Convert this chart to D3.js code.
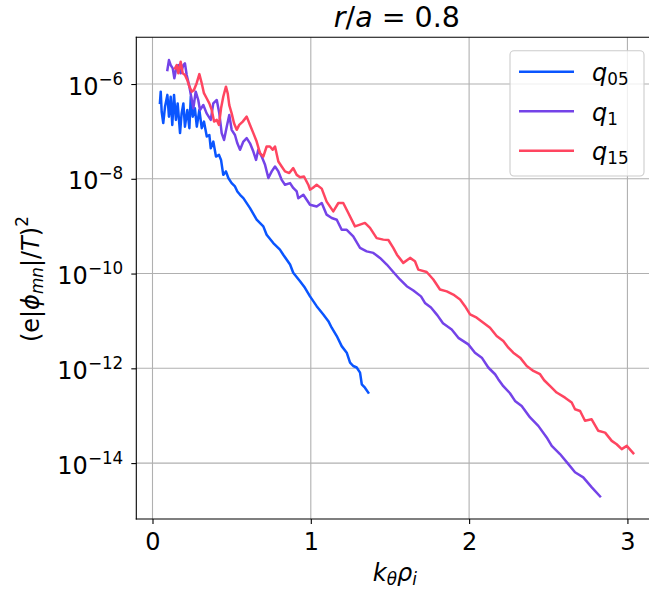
<!DOCTYPE html>
<html>
<head>
<meta charset="utf-8">
<script src="https://cdn.jsdelivr.net/npm/d3@7"></script>
<style>
  html, body { margin: 0; padding: 0; background: #fff; }
  svg { display: block; }
  text { font-family: "DejaVu Sans", sans-serif; fill: #000; }
</style>
</head>
<body>
<div id="chart"></div>
<script>
// ---- data ----
const q05K = [0.047,0.052,0.058,0.068,0.079,0.094,0.104,0.115,0.125,0.136,0.148,0.159,0.174,0.184,0.195,0.205,0.220,0.233,0.242,0.254,0.268,0.280,0.296,0.311,0.325,0.343,0.359,0.368,0.384,0.401,0.420,0.433,0.447,0.464,0.479,0.500,0.521,0.536,0.553,0.574,0.616,0.658,0.700,0.721,0.763,0.805,0.826,0.869,0.889,0.932,0.963,0.995,1.037,1.079,1.111,1.132,1.164,1.195,1.227,1.248,1.268,1.290,1.311,1.322,1.342,1.363];
const q05Phi = [4.0e-7,6.9e-7,2.6e-7,1.5e-7,3.3e-7,5.9e-7,2.05e-7,5.4e-7,1.37e-7,5.9e-7,1.75e-7,3.9e-7,9.2e-8,2.4e-7,3.9e-7,1.26e-7,2.84e-7,1.17e-7,5.4e-7,2.05e-7,3.08e-7,1.26e-7,2.84e-7,1.17e-7,1.61e-7,7.8e-8,8.4e-8,4.4e-8,6.1e-8,2.94e-8,3.2e-8,2.5e-8,1.21e-8,1.43e-8,1.04e-8,8.1e-9,6.9e-9,5.4e-9,4.6e-9,3.9e-9,2.4e-9,1.37e-9,9.9e-10,6.6e-10,4.4e-10,3.2e-10,2.5e-10,1.55e-10,1.04e-10,6.9e-11,5.0e-11,3.3e-11,2.05e-11,1.37e-11,9.9e-12,7.2e-12,4.8e-12,2.94e-12,2.14e-12,1.32e-12,1.12e-12,1.04e-12,8.1e-13,4.6e-13,3.9e-13,3.08e-13];

const q1K = [0.094,0.104,0.115,0.128,0.138,0.148,0.163,0.178,0.195,0.205,0.216,0.233,0.248,0.258,0.273,0.289,0.300,0.321,0.342,0.368,0.384,0.406,0.422,0.437,0.452,0.469,0.485,0.500,0.521,0.536,0.553,0.574,0.595,0.616,0.637,0.654,0.668,0.690,0.711,0.732,0.753,0.774,0.795,0.816,0.837,0.869,0.889,0.911,0.921,0.953,0.995,1.037,1.069,1.100,1.132,1.164,1.195,1.227,1.268,1.311,1.353,1.395,1.437,1.480,1.521,1.563,1.606,1.648,1.696,1.721,1.759,1.800,1.835,1.890,1.932,1.995,2.037,2.080,2.121,2.164,2.184,2.216,2.258,2.290,2.332,2.385,2.437,2.490,2.522,2.574,2.627,2.669,2.721,2.775,2.827];
const q1Phi = [1.97e-6,3.2e-6,2.5e-6,2.14e-6,1.32e-6,1.97e-6,2.5e-6,1.68e-6,2.5e-6,2.73e-6,1.55e-6,8.8e-7,4.6e-7,3.08e-7,6.9e-7,4.6e-7,2.84e-7,3.6e-7,2.4e-7,1.75e-7,3.9e-7,4.6e-7,2.4e-7,9.2e-8,6.6e-8,1.26e-7,2.22e-7,1.08e-7,8.4e-8,5.6e-8,4.1e-8,6.1e-8,7.2e-8,5.6e-8,3.76e-8,2.5e-8,4.1e-8,2.94e-8,1.97e-8,1.04e-8,1.43e-8,1.82e-8,1.43e-8,9.5e-9,7.5e-9,8.1e-9,6.4e-9,5.4e-9,3.9e-9,4.6e-9,2.84e-9,2.61e-9,3.08e-9,1.75e-9,1.49e-9,1.37e-9,8.4e-10,8.4e-10,6.1e-10,3.48e-10,2.94e-10,2.73e-10,2.14e-10,1.55e-10,1.08e-10,7.5e-11,5.4e-11,4.4e-11,3.3e-11,2.4e-11,1.92e-11,1.31e-11,8.9e-12,6.6e-12,4.4e-12,3.2e-12,2.14e-12,1.68e-12,1.04e-12,7.5e-13,5.9e-13,4.2e-13,2.98e-13,2.05e-13,1.61e-13,9.2e-14,6.1e-14,3.48e-14,2.31e-14,1.55e-14,9.5e-15,6.4e-15,5.0e-15,3.08e-15,1.99e-15];

const q15K = [0.142,0.153,0.163,0.178,0.191,0.205,0.220,0.233,0.248,0.262,0.279,0.296,0.311,0.325,0.342,0.359,0.374,0.389,0.406,0.420,0.433,0.447,0.464,0.475,0.485,0.500,0.515,0.532,0.548,0.570,0.595,0.616,0.637,0.658,0.679,0.700,0.721,0.742,0.759,0.774,0.795,0.816,0.837,0.864,0.889,0.911,0.932,0.957,0.984,0.995,1.012,1.037,1.069,1.100,1.142,1.174,1.205,1.237,1.279,1.311,1.342,1.374,1.416,1.458,1.490,1.521,1.544,1.584,1.627,1.658,1.679,1.732,1.774,1.816,1.859,1.900,1.943,1.974,2.006,2.048,2.090,2.132,2.174,2.216,2.248,2.279,2.322,2.364,2.406,2.448,2.474,2.512,2.553,2.606,2.648,2.669,2.701,2.732,2.774,2.816,2.859,2.901,2.932,2.964,2.996,3.037];
const q15Phi = [2.14e-6,2.5e-6,1.68e-6,2.94e-6,1.68e-6,1.55e-6,1.21e-6,8.8e-7,6.9e-7,7.5e-7,1.04e-6,1.62e-6,1.04e-6,6.4e-7,5.0e-7,3.9e-7,2.84e-7,1.61e-7,1.75e-7,1.37e-7,3.08e-7,5.4e-7,8.8e-7,6.4e-7,3.6e-7,2.4e-7,1.49e-7,1.08e-7,1.37e-7,1.61e-7,2.05e-7,1.37e-7,9.2e-8,6.1e-8,3.48e-8,2.94e-8,4.8e-8,4.8e-8,4.1e-8,4.8e-8,2.31e-8,1.82e-8,1.43e-8,1.32e-8,1.68e-8,1.21e-8,1.08e-8,1.12e-8,7.5e-9,5.9e-9,6.4e-9,7.5e-9,6.2e-9,3.3e-9,2.05e-9,3.08e-9,3.08e-9,1.9e-9,9.9e-10,1.08e-9,1.17e-9,9.2e-10,5.6e-10,5.2e-10,5.1e-10,3.48e-10,2.5e-10,1.68e-10,2.14e-10,1.82e-10,1.21e-10,1.08e-10,7.5e-11,4.6e-11,4.2e-11,3.6e-11,2.84e-11,2.05e-11,1.37e-11,1.17e-11,9.2e-12,7.2e-12,4.8e-12,3.76e-12,2.73e-12,2.14e-12,1.68e-12,1.12e-12,8.8e-13,7.5e-13,5.6e-13,4.2e-13,3.08e-13,2.4e-13,1.9e-13,1.37e-13,1.26e-13,7.8e-14,8.4e-14,4.8e-14,4.4e-14,2.94e-14,2.5e-14,1.97e-14,2.31e-14,1.62e-14];

const seriesNames = ["q05", "q1", "q15"];
const seriesSubs = ["05", "1", "15"];
const seriesColors = ["#0a55ff", "#7443e8", "#ff4560"];

const xTicks = [0, 1, 2, 3];
const yTicks = [1e-6, 1e-8, 1e-10, 1e-12, 1e-14];
const yTickExps = ["\u22126", "\u22128", "\u221210", "\u221212", "\u221214"];

// ---- layout ----
const W = 649, H = 595;
const L = 136.3, T = 37.3, B = 519, R = 657.5;

const svg = d3.select("#chart").append("svg")
  .attr("width", W).attr("height", H);

const x = d3.scaleLinear().domain([-0.1023, 3.19]).range([L, R]);
const y = d3.scaleLog().domain([Math.pow(10, -15.18), Math.pow(10, -5.014)]).range([B, T]);

// grid
const grid = svg.append("g");
grid.selectAll("line.vx").data(xTicks).join("line")
  .attr("x1", d => x(d)).attr("x2", d => x(d))
  .attr("y1", T).attr("y2", B)
  .attr("stroke", "#b0b0b0").attr("stroke-width", 1.1);
grid.selectAll("line.hy").data(yTicks).join("line")
  .attr("x1", L).attr("x2", R)
  .attr("y1", d => y(d)).attr("y2", d => y(d))
  .attr("stroke", "#b0b0b0").attr("stroke-width", 1.1);

// series
const series = [
  {k: q05K, p: q05Phi},
  {k: q1K, p: q1Phi},
  {k: q15K, p: q15Phi}
];
const line = d3.line().x(d => x(d[0])).y(d => y(d[1]));
series.forEach((s, i) => {
  const pts = s.k.map((k, j) => [k, s.p[j]]).filter(d => d[1] !== undefined);
  svg.append("path").datum(pts)
    .attr("d", line)
    .attr("fill", "none")
    .attr("stroke", seriesColors[i])
    .attr("stroke-width", 2.5)
    .attr("stroke-linejoin", "round")
    .attr("stroke-linecap", "square");
});

// axes
const xAxis = d3.axisBottom(x).tickValues(xTicks).tickSize(5).tickPadding(9)
  .tickFormat(d3.format("d"));
const gx = svg.append("g").attr("transform", `translate(0,${B})`).call(xAxis);
gx.select(".domain").remove();
gx.selectAll(".tick line").attr("stroke", "#000").attr("stroke-width", 1.1);
gx.selectAll(".tick text").attr("font-size", 24).attr("font-family", "DejaVu Sans").attr("fill", "#000");

const yAxis = d3.axisLeft(y).tickValues(yTicks).tickSize(5).tickFormat("");
const gy = svg.append("g").attr("transform", `translate(${L},0)`).call(yAxis);
gy.select(".domain").remove();
gy.selectAll(".tick line").attr("stroke", "#000").attr("stroke-width", 1.1);
gy.selectAll(".tick").each(function(d, i) {
  const t = d3.select(this).append("text")
    .attr("x", -13).attr("y", 10)
    .attr("text-anchor", "end")
    .attr("font-size", 24);
  t.append("tspan").text("10");
  t.append("tspan").attr("font-size", 16.8).attr("dy", -10).text(yTickExps[i]);
});

// spines
svg.append("line").attr("x1", L).attr("x2", L).attr("y1", T).attr("y2", B)
  .attr("stroke", "#000").attr("stroke-width", 1.1).attr("stroke-linecap", "square");
svg.append("line").attr("x1", L).attr("x2", R).attr("y1", B).attr("y2", B)
  .attr("stroke", "#000").attr("stroke-width", 1.1).attr("stroke-linecap", "square");
svg.append("line").attr("x1", L).attr("x2", R).attr("y1", T).attr("y2", T)
  .attr("stroke", "#000").attr("stroke-width", 1.1).attr("stroke-linecap", "square");

// title
const title = svg.append("text").attr("x", (L + R) / 2).attr("y", 27)
  .attr("text-anchor", "middle").attr("font-size", 28.5);
title.append("tspan").attr("font-style", "italic").text("r");
title.append("tspan").text("/");
title.append("tspan").attr("font-style", "italic").text("a");
title.append("tspan").text(" = 0.8");

// x label
const xl = svg.append("text").attr("x", (L + R) / 2 - 2).attr("y", 581)
  .attr("text-anchor", "middle").attr("font-size", 24);
xl.append("tspan").attr("font-style", "italic").text("k");
xl.append("tspan").attr("font-style", "italic").attr("font-size", 16.8).attr("dy", 4).text("\u03b8");
xl.append("tspan").attr("font-style", "italic").attr("dy", -4).text("\u03c1");
xl.append("tspan").attr("font-style", "italic").attr("font-size", 16.8).attr("dy", 4).text("i");

// y label
const yl = svg.append("text")
  .attr("transform", `translate(39,${(T + B) / 2 + 1}) rotate(-90)`)
  .attr("text-anchor", "middle").attr("font-size", 24);
yl.append("tspan").text("(e|");
yl.append("tspan").attr("font-style", "italic").text("\u03d5");
yl.append("tspan").attr("font-style", "italic").attr("font-size", 16.8).attr("dy", 4).text("mn");
yl.append("tspan").attr("dy", -4).text("|/");
yl.append("tspan").attr("font-style", "italic").text("T");
yl.append("tspan").text(")");
yl.append("tspan").attr("font-size", 16.8).attr("dy", -11).text("2");

// legend
const lg = svg.append("g");
lg.append("rect").attr("x", 510).attr("y", 50.7).attr("width", 134).attr("height", 125.3)
  .attr("rx", 4).attr("ry", 4)
  .attr("fill", "#fff").attr("fill-opacity", 0.8)
  .attr("stroke", "#cccccc").attr("stroke-width", 1.1);
const rowsY = [71.7, 111.2, 150.7];
seriesNames.forEach((n, i) => {
  lg.append("line").attr("x1", 519).attr("x2", 574)
    .attr("y1", rowsY[i]).attr("y2", rowsY[i])
    .attr("stroke", seriesColors[i]).attr("stroke-width", 2.5);
  const t = lg.append("text").attr("x", 592).attr("y", rowsY[i] + 9.5).attr("font-size", 24);
  t.append("tspan").attr("font-style", "italic").text("q");
  t.append("tspan").attr("font-size", 16.8).attr("dy", 4).text(seriesSubs[i]);
});
</script>
</body>
</html>
